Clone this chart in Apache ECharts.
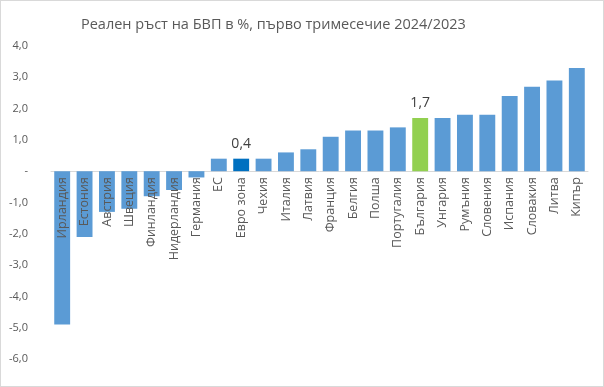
<!DOCTYPE html>
<html><head><meta charset="utf-8">
<script src="https://cdn.jsdelivr.net/npm/echarts@6/dist/echarts.min.js"></script>
<style>html,body{margin:0;padding:0;background:#fff}#c{width:604px;height:387px;box-sizing:border-box;border:1px solid #d9d9d9}</style>
</head><body><div id="c"></div>
<script>
const titleText = 'Реален ръст на БВП в %, първо тримесечие 2024/2023';
const categories = ['Ирландия','Естония','Австрия','Швеция','Финландия','Нидерландия','Германия','ЕС','Евро зона','Чехия','Италия','Латвия','Франция','Белгия','Полша','Португалия','България','Унгария','Румъния','Словения','Испания','Словакия','Литва','Кипър'];
const values = [-4.9,-2.1,-1.3,-1.2,-0.8,-0.6,-0.2,0.4,0.4,0.4,0.6,0.7,1.1,1.3,1.3,1.4,1.7,1.7,1.8,1.8,2.4,2.7,2.9,3.3];
const highlight = {'Евро зона':'#0070C0','България':'#92D050'};
const labelled = ['Евро зона','България'];
const yMin = -6, yMax = 4, yStep = 1;

const fmt = v => v === 0 ? '-' : v.toFixed(1).replace('.', ',');
const chart = echarts.init(document.getElementById('c'));
chart.setOption({
  animation: false,
  textStyle: {fontFamily: 'Open Sans'},
  title: {text: titleText, left: 75, top: 11, textStyle: {fontFamily: 'Open Sans', fontSize: 14.5, fontWeight: 'normal', color: '#595959'}},
  grid: {left: 50, right: 15, top: 45, bottom: 27, containLabel: false, outerBoundsMode: 'none'},
  xAxis: {type: 'category', data: categories,
    axisLine: {onZero: true, lineStyle: {color: '#d9d9d9'}}, axisTick: {show: false},
    axisLabel: {show: false}},
  yAxis: {type: 'value', min: yMin, max: yMax, interval: yStep,
    splitLine: {show: false}, axisLine: {show: false}, axisTick: {show: false},
    axisLabel: {formatter: fmt, color: '#595959', fontSize: 11, margin: 23, align: 'right'}},
  series: [
    {type: 'bar', barWidth: '71%', z: 2,
      data: categories.map((c, i) => ({value: values[i],
        itemStyle: {color: highlight[c] || '#5B9BD5'},
        label: {show: labelled.includes(c), position: 'top', distance: 8, formatter: p => fmt(p.value), color: '#404040', fontSize: 14}}))},
    {type: 'bar', barWidth: '71%', barGap: '-100%', z: 3, silent: true,
      data: categories.map(() => 0),
      itemStyle: {color: 'transparent'},
      label: {show: true, position: 'bottom', distance: 6, rotate: 90, align: 'right', verticalAlign: 'middle',
        formatter: p => p.name, color: '#595959', fontSize: 12.5}}
  ]
});
</script></body></html>
